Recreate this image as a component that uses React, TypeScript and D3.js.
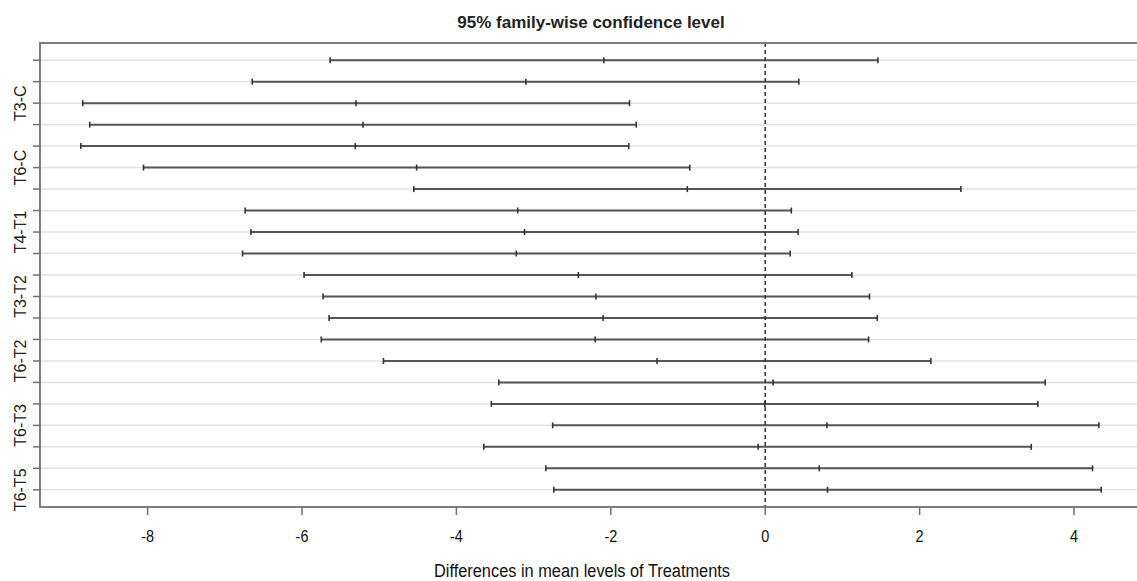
import React from "react";
import * as d3 from "d3";

// Tukey HSD pairwise comparisons of treatment means
const comparisons = [
  "T1-C", "T2-C", "T3-C", "T4-C", "T5-C", "T6-C",
  "T2-T1", "T3-T1", "T4-T1", "T5-T1", "T6-T1",
  "T3-T2", "T4-T2", "T5-T2", "T6-T2",
  "T4-T3", "T5-T3", "T6-T3",
  "T5-T4", "T6-T4",
  "T6-T5",
];
const diffs = [
  -2.09, -3.10, -5.30, -5.21, -5.31, -4.515,
  -1.009, -3.206, -3.118, -3.224, -2.42,
  -2.193, -2.10, -2.202, -1.401,
  0.102, -0.005, 0.799,
  -0.092, 0.70,
  0.807,
];
const lowers = [
  -5.635, -6.645, -8.84, -8.75, -8.865, -8.053,
  -4.552, -6.736, -6.662, -6.77, -5.973,
  -5.727, -5.649, -5.75, -4.945,
  -3.451, -3.548, -2.753,
  -3.645, -2.841,
  -2.738,
];
const uppers = [
  1.46, 0.435, -1.758, -1.67, -1.767, -0.977,
  2.535, 0.338, 0.426, 0.324, 1.123,
  1.351, 1.451, 1.339, 2.146,
  3.627, 3.532, 4.322,
  3.446, 4.24,
  4.352,
];
// comparison names that fit on the vertical axis
const axisLabels = ["T3-C", "T6-C", "T4-T1", "T3-T2", "T6-T2", "T6-T3", "T6-T5"];
const xTicks = [-8, -6, -4, -2, 0, 2, 4];

const W = 1137;
const H = 581;
const left = 40;
const right = 1142;
const top = 43;
const bottom = 507;
const FONT = "'Liberation Sans', Arial, Helvetica, sans-serif";

export default function App() {
  const lo = d3.min(lowers) as number;
  const hi = d3.max(uppers) as number;
  const pad = (hi - lo) * 0.04;
  const x = d3.scaleLinear().domain([lo - pad, hi + pad]).range([left, right]);
  const n = comparisons.length;
  const ypad = (n - 1) * 0.04;
  const y = d3.scaleLinear().domain([1 - ypad, n + ypad]).range([top, bottom]);

  const rows = comparisons.map((name, i) => ({
    name,
    pos: y(i + 1),
    diff: diffs[i],
    lwr: lowers[i],
    upr: uppers[i],
  }));
  const tickH = 3;

  return (
    <svg
      width={W}
      height={H}
      style={{ position: "absolute", left: 0, top: 0, background: "#fff" }}
      fontFamily={FONT}
    >
      <defs>
        <clipPath id="plotArea">
          <rect x={left} y={top} width={right - left} height={bottom - top} />
        </clipPath>
      </defs>

      {/* row guide lines */}
      <g clipPath="url(#plotArea)">
        {rows.map((r) => (
          <line key={"g" + r.name} x1={left} x2={right} y1={r.pos} y2={r.pos} stroke="#e2e2e2" strokeWidth={1.5} />
        ))}
      </g>

      {/* confidence intervals */}
      {rows.map((r) => (
        <g key={"ci" + r.name}>
          <line x1={x(r.lwr)} x2={x(r.upr)} y1={r.pos} y2={r.pos} stroke="#555" strokeWidth={2} />
          {[r.lwr, r.diff, r.upr].map((v, k) => (
            <line key={k} x1={x(v)} x2={x(v)} y1={r.pos - tickH} y2={r.pos + tickH} stroke="#333" strokeWidth={1.6} />
          ))}
        </g>
      ))}

      {/* zero reference */}
      <line x1={x(0)} x2={x(0)} y1={top} y2={bottom} stroke="#333" strokeWidth={1.5} strokeDasharray="4,3" />

      {/* frame */}
      <rect x={left} y={top} width={right - left} height={bottom - top} fill="none" stroke="#707070" strokeWidth={1.8} />

      {/* y axis */}
      {rows.map((r) => (
        <line key={"yt" + r.name} x1={left - 7} x2={left} y1={r.pos} y2={r.pos} stroke="#707070" strokeWidth={1.5} />
      ))}
      {rows
        .filter((r) => axisLabels.includes(r.name))
        .map((r) => (
          <text
            key={"yl" + r.name}
            transform={`translate(26,${r.pos}) rotate(-90)`}
            textAnchor="middle"
            fontSize={16}
            fill="#222"
          >
            {r.name}
          </text>
        ))}

      {/* x axis */}
      {xTicks.map((t) => (
        <g key={"xt" + t}>
          <line x1={x(t)} x2={x(t)} y1={bottom} y2={bottom + 8} stroke="#707070" strokeWidth={1.5} />
          <text
            transform={`translate(${x(t)},${542}) scale(0.85,1)`}
            textAnchor="middle"
            fontSize={17}
            fill="#111"
          >
            {t}
          </text>
        </g>
      ))}

      <text x={582} y={577} textAnchor="middle" fontSize={18} fill="#111" textLength={296} lengthAdjust="spacingAndGlyphs">
        Differences in mean levels of Treatments
      </text>

      <text x={591} y={28} textAnchor="middle" fontSize={17} fontWeight="bold" fill="#222">
        95% family-wise confidence level
      </text>
    </svg>
  );
}
